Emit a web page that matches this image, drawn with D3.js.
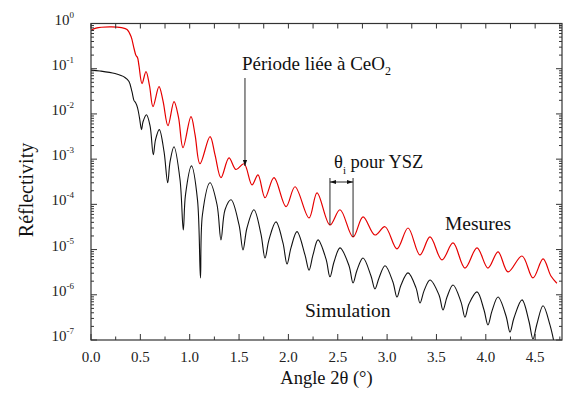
<!DOCTYPE html>
<html>
<head>
<meta charset="utf-8">
<script src="https://cdn.jsdelivr.net/npm/d3@7/dist/d3.min.js"></script>
<style>
  html, body { margin: 0; padding: 0; background: #fff; }
  svg { display: block; }
  svg text { font-family: 'Liberation Serif', 'DejaVu Serif', serif; }
</style>
</head>
<body>
<svg id="chart" width="564" height="394"></svg>
<script>
// ---- data ----
const measAngle = [0.00,0.05,0.19,0.31,0.365,0.405,0.436,0.456,0.471,0.486,0.517,0.557,0.593,0.628,0.689,0.729,0.780,0.841,0.887,0.932,1.013,1.054,1.104,1.206,1.256,1.317,1.398,1.469,1.550,1.631,1.692,1.763,1.854,1.976,2.067,2.209,2.290,2.421,2.523,2.655,2.756,2.877,2.979,3.100,3.212,3.333,3.435,3.556,3.668,3.789,3.911,4.022,4.124,4.225,4.367,4.478,4.580,4.660,4.720];
const measR = [0.70,0.79,0.84,0.81,0.74,0.52,0.28,0.195,0.177,0.117,0.047,0.0865,0.042,0.0145,0.040,0.0197,0.0055,0.0187,0.0083,0.00179,0.0087,0.0035,7.9e-4,0.00314,0.00126,3.9e-4,0.00107,5.9e-4,7.9e-4,2.7e-4,4.5e-4,1.4e-4,3.9e-4,8.9e-5,2.45e-4,5.0e-5,1.8e-4,3.5e-5,7.6e-5,1.9e-5,5.3e-5,2.1e-5,3.2e-5,1.04e-5,3.0e-5,7.6e-6,1.9e-5,5.9e-6,1.4e-5,3.9e-6,1.09e-5,3.9e-6,8.9e-6,3.2e-6,7.2e-6,2.36e-6,6.2e-6,2.6e-6,1.8e-6];

const simAngle = [0.000,0.091,0.243,0.344,0.385,0.415,0.436,0.451,0.471,0.491,0.512,0.527,0.562,0.598,0.631,0.654,0.692,0.740,0.777,0.801,0.841,0.902,0.935,0.957,1.018,1.079,1.109,1.129,1.206,1.277,1.317,1.358,1.419,1.500,1.540,1.580,1.651,1.722,1.763,1.803,1.874,1.945,1.986,2.026,2.087,2.168,2.209,2.249,2.300,2.381,2.421,2.462,2.523,2.614,2.655,2.695,2.756,2.837,2.877,2.918,2.979,3.059,3.100,3.141,3.212,3.293,3.333,3.374,3.435,3.526,3.566,3.607,3.668,3.749,3.789,3.830,3.911,3.982,4.022,4.063,4.124,4.205,4.245,4.286,4.367,4.437,4.478,4.518,4.580,4.650,4.700];
const simR = [0.093,0.089,0.078,0.064,0.052,0.031,0.0197,0.0178,0.0138,0.0083,0.0045,0.0067,0.0096,0.0055,0.00125,0.0027,0.0045,0.00146,3.0e-4,8.8e-4,0.00188,3.5e-4,2.7e-5,1.6e-4,7.1e-4,1.26e-4,2.36e-6,5.9e-5,3.0e-4,9.8e-5,1.64e-5,7.6e-5,1.26e-4,3.5e-5,9.8e-6,3.0e-5,7.6e-5,2.2e-5,6.5e-6,1.64e-5,4.1e-5,1.4e-5,4.8e-6,1.09e-5,2.5e-5,7.6e-6,3.5e-6,7.6e-6,1.64e-5,6.2e-6,2.5e-6,5.3e-6,1.09e-5,4.4e-6,1.83e-6,3.5e-6,6.5e-6,2.6e-6,1.35e-6,2.36e-6,4.4e-6,1.92e-6,8.9e-7,1.65e-6,3.05e-6,1.42e-6,6.6e-7,1.22e-6,2.13e-6,9.9e-7,4.6e-7,8.9e-7,1.65e-6,6.9e-7,3.2e-7,6.3e-7,1.16e-6,4.6e-7,2.15e-7,4.4e-7,8.9e-7,3.4e-7,1.5e-7,3.1e-7,7.7e-7,2.6e-7,1.05e-7,2.26e-7,5.7e-7,2.15e-7,7.1e-8];

const xTicks = [0.0,0.5,1.0,1.5,2.0,2.5,3.0,3.5,4.0,4.5];
const yExponents = [0,-1,-2,-3,-4,-5,-6,-7];

// ---- layout ----
const FONT = "Liberation Serif";
const svg = d3.select("#chart");
const L = 91, R = 562, T = 23.5, B = 340;
const x = d3.scaleLinear().domain([0, 4.772]).range([L, R]);
const y = d3.scaleLog().domain([1e-7, 1]).range([B, T]);

svg.append("defs").append("clipPath").attr("id","clip")
  .append("rect").attr("x",L).attr("y",T).attr("width",R-L).attr("height",B-T);

// ---- curves ----
const line = d3.line().curve(d3.curveCatmullRom.alpha(0.5))
  .x(d => x(d[0])).y(d => y(d[1]));
const measData = measAngle.map((a,i) => [a, measR[i]]);
const simData = simAngle.map((a,i) => [a, simR[i]]);

const g = svg.append("g").attr("clip-path","url(#clip)");
g.append("path").attr("d", line(simData)).attr("fill","none").attr("stroke","#111").attr("stroke-width",1.1);
g.append("path").attr("d", line(measData)).attr("fill","none").attr("stroke","#e60000").attr("stroke-width",1.2);

// ---- frame & ticks ----
const axisColor = "#333";
svg.append("rect").attr("x",L).attr("y",T).attr("width",R-L).attr("height",B-T)
  .attr("fill","none").attr("stroke",axisColor).attr("stroke-width",1.2);

const ax = svg.append("g").attr("stroke",axisColor).attr("stroke-width",1);
const xMinor = d3.range(0, 4.76, 0.25);
xMinor.forEach(v => {
  const major = Math.abs(v*2 - Math.round(v*2)) < 1e-6;
  const len = major ? 6 : 3.5;
  ax.append("line").attr("x1",x(v)).attr("x2",x(v)).attr("y1",B).attr("y2",B-len);
  ax.append("line").attr("x1",x(v)).attr("x2",x(v)).attr("y1",T).attr("y2",T+5);
});
yExponents.forEach(e => {
  const v = Math.pow(10, e);
  ax.append("line").attr("x1",L).attr("x2",L+6).attr("y1",y(v)).attr("y2",y(v));
  ax.append("line").attr("x1",R).attr("x2",R-6).attr("y1",y(v)).attr("y2",y(v));
  if (e < 0) {
    for (let k = 2; k <= 9; k++) {
      const vm = v * k;
      ax.append("line").attr("x1",L).attr("x2",L+3).attr("y1",y(vm)).attr("y2",y(vm));
      ax.append("line").attr("x1",R).attr("x2",R-3).attr("y1",y(vm)).attr("y2",y(vm));
    }
  }
});

// x tick labels
svg.append("g").selectAll("text").data(xTicks).join("text")
  .attr("x", d => x(d)).attr("y", 362)
  .attr("font-family", FONT)
  .attr("text-anchor","middle").attr("font-size",15).attr("fill","#222")
  .text(d => d3.format(".1f")(d));

// y tick labels
const yl = svg.append("g").selectAll("text").data(yExponents).join("text")
  .attr("x", 74).attr("y", d => y(Math.pow(10,d)) + 1)
  .attr("font-family", FONT)
  .attr("text-anchor","end").attr("font-size",15).attr("fill","#222");
yl.append("tspan").text("10");
yl.append("tspan").attr("dy",-7).attr("font-size",9).text(d => d === 0 ? "0" : "-" + Math.abs(d));

// axis titles
svg.append("text").attr("x", (L+R)/2).attr("y", 384).attr("text-anchor","middle")
  .attr("font-family", FONT)
  .attr("font-size",18.5).attr("fill","#111").text("Angle 2θ (°)");
svg.append("text").attr("transform","translate(33,190) rotate(-90)").attr("text-anchor","middle")
  .attr("font-family", FONT)
  .attr("font-size",20).attr("fill","#111").text("Réflectivity");

// annotations
const ann = svg.append("g").attr("fill","#111").attr("font-family", FONT);
const t1 = ann.append("text").attr("x",242).attr("y",70).attr("font-size",19);
t1.append("tspan").text("Période liée à CeO");
t1.append("tspan").attr("dy",5).attr("font-size",12).text("2");

const t2 = ann.append("text").attr("x",334).attr("y",168).attr("font-size",18.5);
t2.append("tspan").text("θ");
t2.append("tspan").attr("dy",6).attr("font-size",11).text("i");
t2.append("tspan").attr("dy",-6).text(" pour YSZ");

ann.append("text").attr("x",445).attr("y",230).attr("font-size",19.5).text("Mesures");
ann.append("text").attr("x",305).attr("y",317).attr("font-size",19.5).text("Simulation");

// arrows
const defs = svg.select("defs");
defs.append("marker").attr("id","ah").attr("viewBox","0 0 10 10").attr("refX",10).attr("refY",5)
  .attr("markerWidth",7).attr("markerHeight",7).attr("orient","auto-start-reverse")
  .append("path").attr("d","M0,1.5 L10,5 L0,8.5 Z").attr("fill","#111");

const arrowX = 1.56;
svg.append("line").attr("x1",x(arrowX)).attr("x2",x(arrowX)).attr("y1",78).attr("y2",166)
  .attr("stroke","#111").attr("stroke-width",0.9).attr("marker-end","url(#ah)");

const bx1 = 2.421, bx2 = 2.655;
svg.append("line").attr("x1",x(bx1)).attr("x2",x(bx1)).attr("y1",178).attr("y2",y(3.5e-5))
  .attr("stroke","#111").attr("stroke-width",0.9);
svg.append("line").attr("x1",x(bx2)).attr("x2",x(bx2)).attr("y1",178).attr("y2",y(1.9e-5))
  .attr("stroke","#111").attr("stroke-width",0.9);
svg.append("line").attr("x1",x(bx1)).attr("x2",x(bx2)).attr("y1",182).attr("y2",182)
  .attr("stroke","#111").attr("stroke-width",0.9)
  .attr("marker-start","url(#ah)").attr("marker-end","url(#ah)");
</script>
</body>
</html>
